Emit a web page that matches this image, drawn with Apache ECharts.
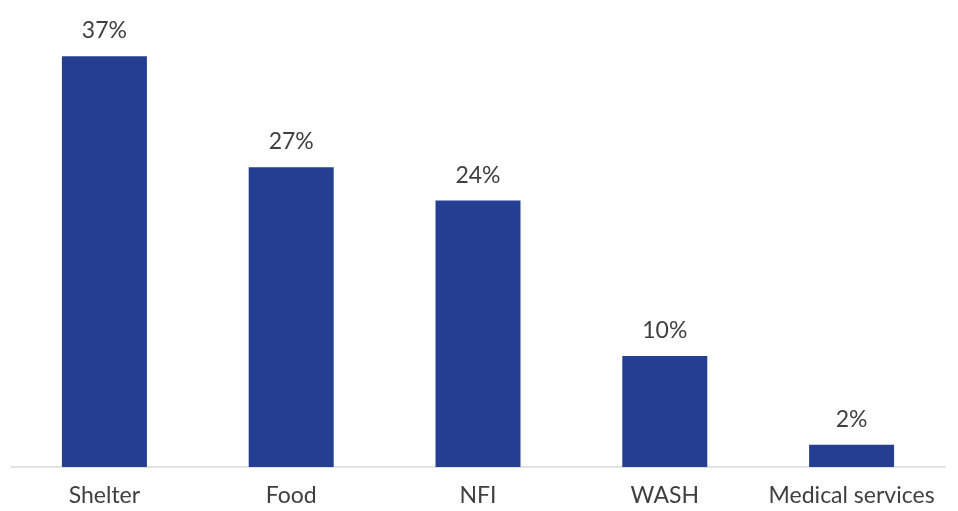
<!DOCTYPE html>
<html>
<head>
<meta charset="utf-8">
<script src="https://cdn.jsdelivr.net/npm/echarts@6/dist/echarts.min.js"></script>
<style>html,body{margin:0;padding:0;background:#fff}#c{width:958px;height:511px}</style>
</head>
<body>
<div id="c"></div>
<script>
const categories = ["Shelter", "Food", "NFI", "WASH", "Medical services"];
const values = [37, 27, 24, 10, 2];

const chart = echarts.init(document.getElementById('c'));
chart.setOption({
  animation: false,
  grid: { left: 11, right: 13, top: 23, bottom: 44, containLabel: false },
  xAxis: {
    type: 'category',
    data: categories,
    axisLine: { lineStyle: { color: '#d9d9d9', width: 1.5 } },
    axisTick: { show: false },
    axisLabel: { interval: 0, color: '#404040', fontSize: 23, fontFamily: 'Lato', margin: 17 }
  },
  yAxis: {
    type: 'value', min: 0, max: 40,
    show: false, splitLine: { show: false }
  },
  series: [{
    type: 'bar',
    data: values,
    barWidth: 85,
    itemStyle: { color: '#243f92' },
    label: {
      show: true, position: 'top', distance: 14,
      formatter: p => p.value + '%',
      color: '#404040', fontSize: 23, fontFamily: 'Lato'
    }
  }]
});
</script>
</body>
</html>
